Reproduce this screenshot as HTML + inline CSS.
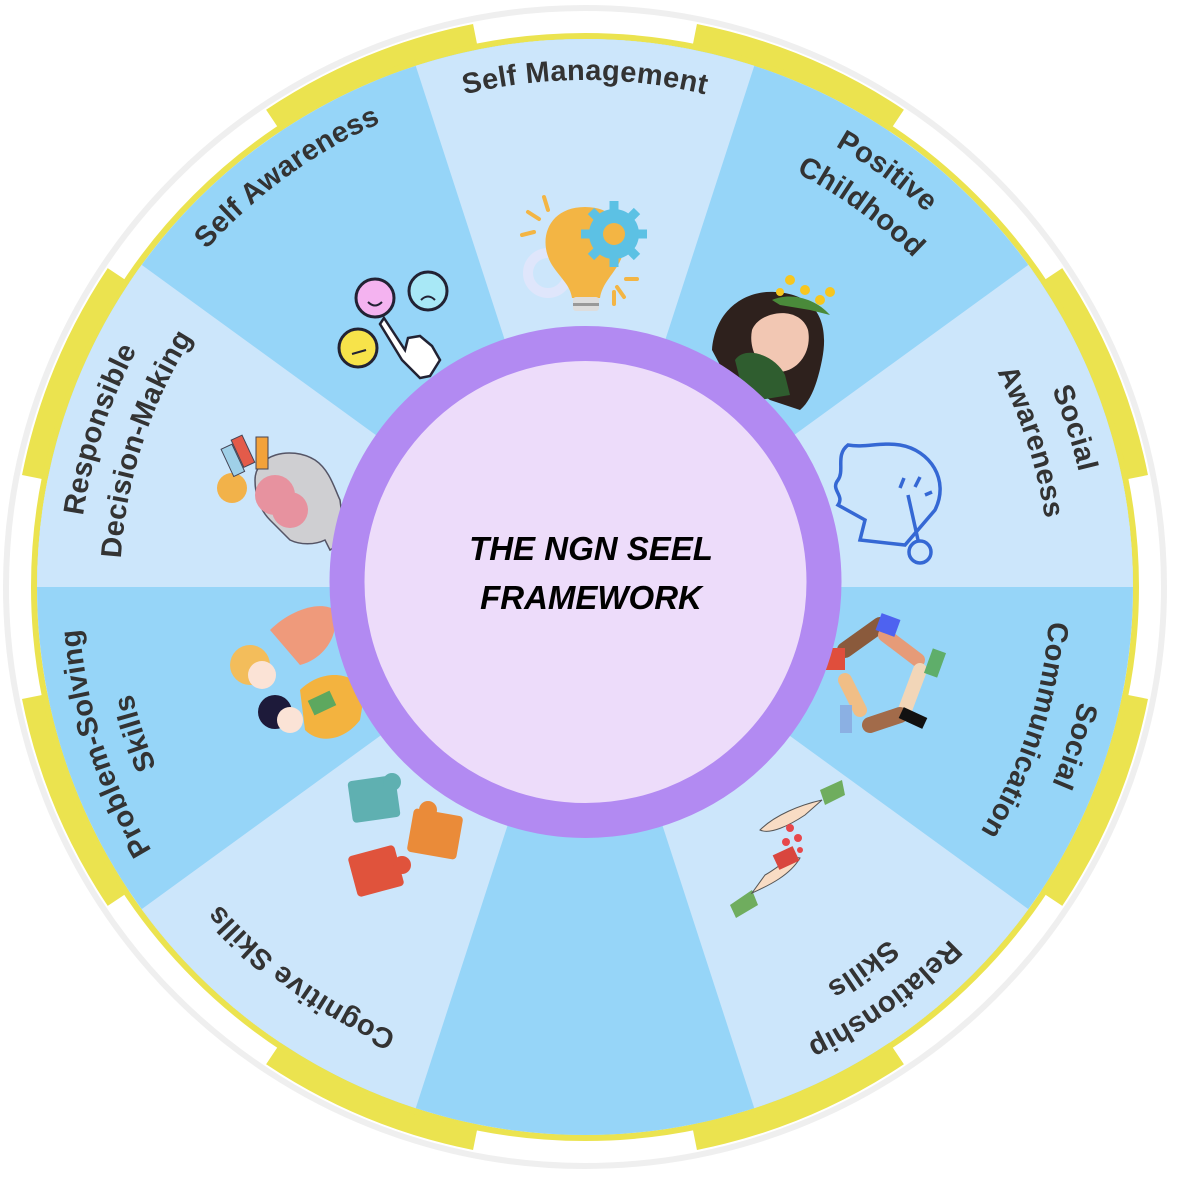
<!DOCTYPE html>
<html><head><meta charset="utf-8"><style>
html,body{margin:0;padding:0;background:#fff;}
svg{display:block;}
.lab{font-family:"Liberation Sans",sans-serif;font-weight:bold;font-size:29px;fill:#333;letter-spacing:0.3px;}
.ct{font-family:"Liberation Sans",sans-serif;font-weight:bold;font-style:italic;font-size:33px;fill:#000;}
</style></head><body>
<svg width="1178" height="1177" viewBox="0 0 1178 1177" xmlns="http://www.w3.org/2000/svg">
<defs>
<path id="a500" d="M259.1,198.6 A507,507 0 0 1 910.9,198.6"/>
<path id="a460" d="M286.1,230.8 A465,465 0 0 1 883.9,230.8"/>
<path id="a477" d="M273.9,216.3 A484,484 0 0 1 896.1,216.3"/>
</defs>
<circle cx="585" cy="587" r="579" fill="#fff" stroke="#efefef" stroke-width="6"/>
<circle cx="585" cy="587" r="561" fill="none" stroke="#ebe34f" stroke-width="26" pathLength="16" stroke-dasharray="1 1" stroke-dashoffset="-0.5"/>
<circle cx="585" cy="587" r="551" fill="none" stroke="#ebe34f" stroke-width="6"/>
<circle cx="585" cy="587" r="548" fill="#96d5f8"/>
<g fill="#cce6fb">
<path d="M585,587 L415.7,65.8 A548,548 0 0 1 754.3,65.8 Z"/>
<path d="M585,587 L1028.3,264.9 A548,548 0 0 1 1133,587 Z"/>
<path d="M585,587 L1028.3,909.1 A548,548 0 0 1 754.3,1108.2 Z"/>
<path d="M585,587 L415.7,1108.2 A548,548 0 0 1 141.7,909.1 Z"/>
<path d="M585,587 L37,587 A548,548 0 0 1 141.7,264.9 Z"/>
</g>
<text class="lab"><textPath href="#a500" startOffset="50%" text-anchor="middle">Self Management</textPath></text>
<g transform="rotate(36 585 587)">
<text class="lab"><textPath href="#a500" startOffset="50%" text-anchor="middle">Positive</textPath></text>
<text class="lab"><textPath href="#a460" startOffset="50%" text-anchor="middle">Childhood</textPath></text></g>
<g transform="rotate(72 585 587)">
<text class="lab"><textPath href="#a500" startOffset="50%" text-anchor="middle">Social</textPath></text>
<text class="lab"><textPath href="#a460" startOffset="50%" text-anchor="middle">Awareness</textPath></text></g>
<g transform="rotate(108 585 587)">
<text class="lab"><textPath href="#a500" startOffset="50%" text-anchor="middle">Social</textPath></text>
<text class="lab"><textPath href="#a460" startOffset="50%" text-anchor="middle">Communication</textPath></text></g>
<g transform="rotate(144 585 587)">
<text class="lab"><textPath href="#a500" startOffset="50%" text-anchor="middle">Relationship</textPath></text>
<text class="lab"><textPath href="#a460" startOffset="50%" text-anchor="middle">Skills</textPath></text></g>
<g transform="rotate(216 585 587)">
<text class="lab"><textPath href="#a477" startOffset="50%" text-anchor="middle">Cognitive Skills</textPath></text></g>
<g transform="rotate(252 585 587)">
<text class="lab"><textPath href="#a500" startOffset="50%" text-anchor="middle">Problem-Solving</textPath></text>
<text class="lab"><textPath href="#a460" startOffset="50%" text-anchor="middle">Skills</textPath></text></g>
<g transform="rotate(288 585 587)">
<text class="lab"><textPath href="#a500" startOffset="50%" text-anchor="middle">Responsible</textPath></text>
<text class="lab"><textPath href="#a460" startOffset="50%" text-anchor="middle">Decision-Making</textPath></text></g>
<g transform="rotate(324 585 587)">
<text class="lab"><textPath href="#a500" startOffset="50%" text-anchor="middle">Self Awareness</textPath></text></g>

<circle cx="548" cy="273" r="20" fill="none" stroke="#dfe6fb" stroke-width="10"/>
<path d="M585,207 C548,207 537,240 552,265 C562,280 570,285 572,298 L600,298 C602,285 610,278 618,265 C633,240 622,207 585,207Z" fill="#f3b544"/>
<rect x="573" y="297" width="26" height="14" rx="3" fill="#ddd"/>
<rect x="573" y="303" width="26" height="3" fill="#999"/>
<circle cx="614" cy="234" r="25" fill="#5cc1e4"/>
<g stroke="#5cc1e4" stroke-width="9"><line x1="614" y1="201" x2="614" y2="267"/><line x1="581" y1="234" x2="647" y2="234"/><line x1="591" y1="211" x2="637" y2="257"/><line x1="637" y1="211" x2="591" y2="257"/></g>
<circle cx="614" cy="234" r="11" fill="#f3b544"/>
<g stroke="#f3b544" stroke-width="4" stroke-linecap="round"><line x1="544" y1="197" x2="548" y2="210"/><line x1="528" y1="212" x2="539" y2="219"/><line x1="522" y1="235" x2="534" y2="232"/><line x1="626" y1="279" x2="637" y2="279"/><line x1="617" y1="287" x2="624" y2="297"/><line x1="614" y1="292" x2="614" y2="304"/></g>
<circle cx="375" cy="298" r="19" fill="#f4b3f0" stroke="#223" stroke-width="3"/>
<path d="M368,302 q7,7 14,0" fill="none" stroke="#223" stroke-width="2"/>
<circle cx="428" cy="291" r="19" fill="#a8e8f6" stroke="#223" stroke-width="3"/>
<path d="M421,300 q7,-7 14,0" fill="none" stroke="#223" stroke-width="2"/>
<circle cx="358" cy="348" r="19" fill="#f7e34a" stroke="#223" stroke-width="3"/>
<line x1="352" y1="354" x2="366" y2="350" stroke="#223" stroke-width="2"/>
<path d="M384,318 L405,350 L408,338 L420,336 L432,346 L440,360 L430,376 L420,378 L402,360 L380,324Z" fill="#fff" stroke="#223" stroke-width="2.5"/>
<path d="M712,350 C715,310 745,290 775,292 C815,294 830,320 822,360 C818,380 812,400 800,410 L770,400 L720,365Z" fill="#2e211d"/>
<path d="M752,330 C760,310 800,305 808,330 C812,350 800,370 780,372 C760,372 748,350 752,330Z" fill="#f2c7b3"/>
<path d="M735,360 C745,345 775,355 785,375 L790,395 L760,400 L740,380Z" fill="#2f5d2f"/>
<g fill="#f7c61f"><circle cx="790" cy="280" r="5"/><circle cx="805" cy="290" r="5"/><circle cx="820" cy="300" r="5"/><circle cx="830" cy="292" r="5"/><circle cx="780" cy="292" r="4"/></g>
<path d="M772,300 C790,292 815,298 830,315 L810,310 L780,305Z" fill="#4a8a3a"/>
<path d="M848,445 C835,455 845,470 838,480 C830,490 845,495 838,505 L865,520 L860,540 L905,545 L935,510 C950,480 930,450 900,445 C880,442 865,448 848,445Z" fill="none" stroke="#3568d4" stroke-width="3.5"/>
<g stroke="#3568d4" stroke-width="3.5" fill="none"><line x1="908" y1="495" x2="918" y2="540"/><circle cx="920" cy="552" r="11"/><line x1="900" y1="488" x2="904" y2="478"/><line x1="915" y1="487" x2="920" y2="477"/><line x1="925" y1="495" x2="932" y2="492"/></g>
<g stroke-linecap="round">
<path d="M845,650 L880,625" stroke="#8a5a3c" stroke-width="16"/>
<path d="M885,635 L918,660" stroke="#e69b78" stroke-width="14"/>
<path d="M920,670 L905,710" stroke="#f2d6b8" stroke-width="14"/>
<path d="M900,715 L870,725" stroke="#a26b4a" stroke-width="16"/>
<path d="M860,710 L845,680" stroke="#f0be86" stroke-width="14"/>
</g>
<rect x="825" y="648" width="20" height="22" fill="#e04e3c"/>
<rect x="878" y="616" width="20" height="18" fill="#4e62f0" transform="rotate(20 888 625)"/>
<rect x="928" y="650" width="14" height="26" fill="#5fae6a" transform="rotate(20 935 663)"/>
<rect x="900" y="712" width="26" height="12" fill="#111" transform="rotate(25 913 718)"/>
<rect x="840" y="705" width="12" height="28" fill="#8bb0e3"/>
<path d="M820,790 L842,780 L845,795 L825,805Z" fill="#6fad5e"/>
<path d="M822,800 C800,805 775,815 760,830 C770,835 790,825 805,815Z" fill="#f8dcc4" stroke="#555" stroke-width="1"/>
<path d="M730,905 L752,890 L758,905 L736,918Z" fill="#6fad5e"/>
<path d="M752,893 C770,885 790,875 800,858 C790,855 778,868 765,875Z" fill="#f8dcc4" stroke="#555" stroke-width="1"/>
<rect x="775" y="850" width="22" height="16" fill="#d9463e" transform="rotate(-25 786 858)"/>
<g fill="#e7474b"><circle cx="790" cy="828" r="4"/><circle cx="798" cy="838" r="4"/><circle cx="786" cy="842" r="4"/><circle cx="800" cy="850" r="3"/></g>
<rect x="350" y="778" width="48" height="42" rx="4" fill="#5fb0b1" transform="rotate(-8 374 799)"/>
<circle cx="392" cy="782" r="9" fill="#5fb0b1"/>
<rect x="410" y="812" width="50" height="44" rx="4" fill="#ea8b39" transform="rotate(10 435 834)"/>
<circle cx="428" cy="810" r="9" fill="#ea8b39"/>
<rect x="352" y="850" width="48" height="42" rx="4" fill="#e0533c" transform="rotate(-15 376 871)"/>
<circle cx="402" cy="865" r="9" fill="#e0533c"/>
<path d="M270,630 C290,610 320,600 335,610 C340,640 320,660 300,665 Z" fill="#ef9a7b"/>
<circle cx="250" cy="665" r="20" fill="#f3bd5b"/>
<circle cx="262" cy="675" r="14" fill="#fbe3d6"/>
<path d="M300,690 C320,670 350,670 365,690 L360,720 C345,740 320,745 305,730Z" fill="#f3b33f"/>
<circle cx="275" cy="712" r="17" fill="#1d1a3a"/>
<circle cx="290" cy="720" r="13" fill="#fbe3d6"/>
<rect x="310" y="695" width="24" height="16" fill="#5da85f" transform="rotate(-25 322 703)"/>
<path d="M255,480 C255,455 290,445 315,460 C330,470 335,490 340,500 L345,540 L330,550 L325,540 C315,545 300,545 290,540 L270,520 C260,510 255,495 255,480Z" fill="#cfcfd2" stroke="#556" stroke-width="1.5"/>
<circle cx="275" cy="495" r="20" fill="#e7929f"/>
<circle cx="290" cy="510" r="18" fill="#e7929f"/>
<circle cx="232" cy="488" r="15" fill="#f2b24a"/>
<g transform="rotate(-25 245 458)"><rect x="227" y="440" width="12" height="30" fill="#9fd0e8" stroke="#445" stroke-width="1"/><rect x="240" y="436" width="12" height="30" fill="#e35b4a" stroke="#445" stroke-width="1"/></g>
<rect x="256" y="437" width="12" height="32" fill="#f3a23a" stroke="#445" stroke-width="1"/>

<circle cx="585.5" cy="582" r="238.5" fill="#eddcfa" stroke="#b28af2" stroke-width="35"/>
<text class="ct" x="591" y="560" text-anchor="middle">THE NGN SEEL</text>
<text class="ct" x="591" y="609" text-anchor="middle">FRAMEWORK</text>
</svg>
</body></html>
